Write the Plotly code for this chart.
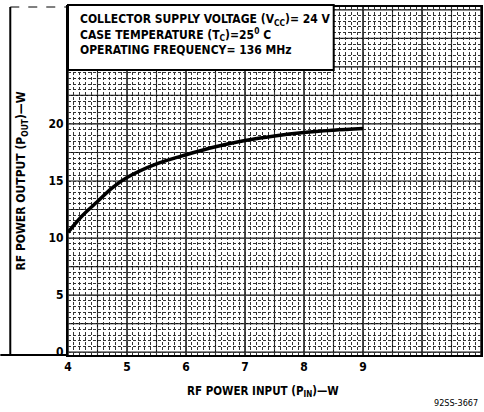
import plotly.graph_objects as go

# Data
p_in = [4.0, 4.25, 4.5, 4.75, 5.0, 5.5, 6.0, 6.5, 7.0, 7.5, 8.0, 8.5, 9.0]
p_out = [10.5, 12.0, 13.2, 14.4, 15.3, 16.5, 17.3, 18.0, 18.55, 18.95, 19.25, 19.45, 19.6]
x_ticks = [4, 5, 6, 7, 8, 9]
y_ticks = [0, 5, 10, 15, 20]
header_lines = [
    "COLLECTOR SUPPLY VOLTAGE (V<sub>CC</sub>)= 24 V",
    "CASE TEMPERATURE (T<sub>C</sub>)=25<sup>0</sup> C",
    "OPERATING FREQUENCY= 136 MHz",
]

FONT = "DejaVu Sans Condensed, Liberation Sans Narrow, Arial Narrow, sans-serif"

fig = go.Figure()
fig.add_trace(go.Scatter(
    x=p_in, y=p_out, mode="lines",
    line=dict(color="black", width=3.5, shape="spline", smoothing=1.0),
    showlegend=False, hoverinfo="skip",
))

W, H = 484, 412
L, R, T, B = 68, 1, 7, 57
pw = W - L - R
ph = H - T - B

def px_x(p):
    return (p - L) / pw

def px_y(p):
    return (H - B - p) / ph

fig.update_layout(
    width=W, height=H,
    margin=dict(l=L, r=R, t=T, b=B),
    paper_bgcolor="white", plot_bgcolor="white",
    font=dict(family=FONT, color="black", size=12),
    xaxis=dict(
        range=[4, 11], tickvals=x_ticks, ticktext=[str(v) for v in x_ticks],
        showgrid=False,
        minor=dict(dtick=0.1, tick0=4, showgrid=True, gridcolor="#333",
                   griddash="3px,2px", gridwidth=1),
        showline=True, linecolor="black", linewidth=2, mirror=True,
        zeroline=False, ticks="",
        tickfont=dict(family=FONT, size=12, color="black", weight="bold"),
    ),
    yaxis=dict(
        range=[-0.25, 30.25], tickvals=y_ticks, ticktext=[str(v) for v in y_ticks],
        showgrid=False,
        minor=dict(dtick=0.5, tick0=0, showgrid=True, gridcolor="#333",
                   griddash="3px,2px", gridwidth=1),
        showline=True, linecolor="black", linewidth=2, mirror=True,
        zeroline=False, ticks="",
        tickfont=dict(family=FONT, size=12, color="black", weight="bold"),
        title=dict(text="<b>RF POWER OUTPUT (P<sub>OUT</sub>)—W</b>",
                   font=dict(family=FONT, size=12), standoff=20),
    ),
)
# major grid lines
for v in [2.5 * i for i in range(0, 13)]:
    fig.add_hline(y=v, line=dict(color="#111", width=1.2), layer="below")
for v in [4 + 0.5 * i for i in range(0, 15)]:
    fig.add_vline(x=v, line=dict(color="#111", width=1.5 if v == int(v) else 1.1), layer="below")

# Header box
fig.add_shape(type="rect", xref="paper", yref="paper",
              x0=0, x1=px_x(335), y0=px_y(70), y1=px_y(5),
              fillcolor="white", line=dict(color="black", width=2), layer="above")
fig.add_annotation(xref="paper", yref="paper", x=px_x(78), y=px_y(10),
                   text="<br>".join("<b>" + t + "</b>" for t in header_lines),
                   showarrow=False, xanchor="left", yanchor="top", align="left",
                   font=dict(family=FONT, size=12, color="black"))

# X axis title
fig.add_annotation(xref="paper", yref="paper", x=px_x(264), y=px_y(391),
                   text="<b>RF POWER INPUT (P<sub>IN</sub>)—W</b>", showarrow=False,
                   xanchor="center", yanchor="middle",
                   font=dict(family=FONT, size=11.5, color="black"))

# Outer frame
fig.add_shape(type="line", xref="paper", yref="paper", x0=px_x(10), x1=px_x(10),
              y0=px_y(355), y1=px_y(7), line=dict(color="black", width=2))
fig.add_shape(type="line", xref="paper", yref="paper", x0=px_x(10), x1=0,
              y0=px_y(7), y1=px_y(7), line=dict(color="black", width=1, dash="dash"))
fig.add_shape(type="line", xref="paper", yref="paper", x0=px_x(0), x1=0,
              y0=px_y(355), y1=px_y(355), line=dict(color="black", width=2))

fig.add_annotation(xref="paper", yref="paper", x=px_x(482), y=px_y(403),
                   text="92SS-3667", showarrow=False, xanchor="right", yanchor="middle",
                   font=dict(family=FONT, size=9, color="black"))

fig.write_html("out.html")
